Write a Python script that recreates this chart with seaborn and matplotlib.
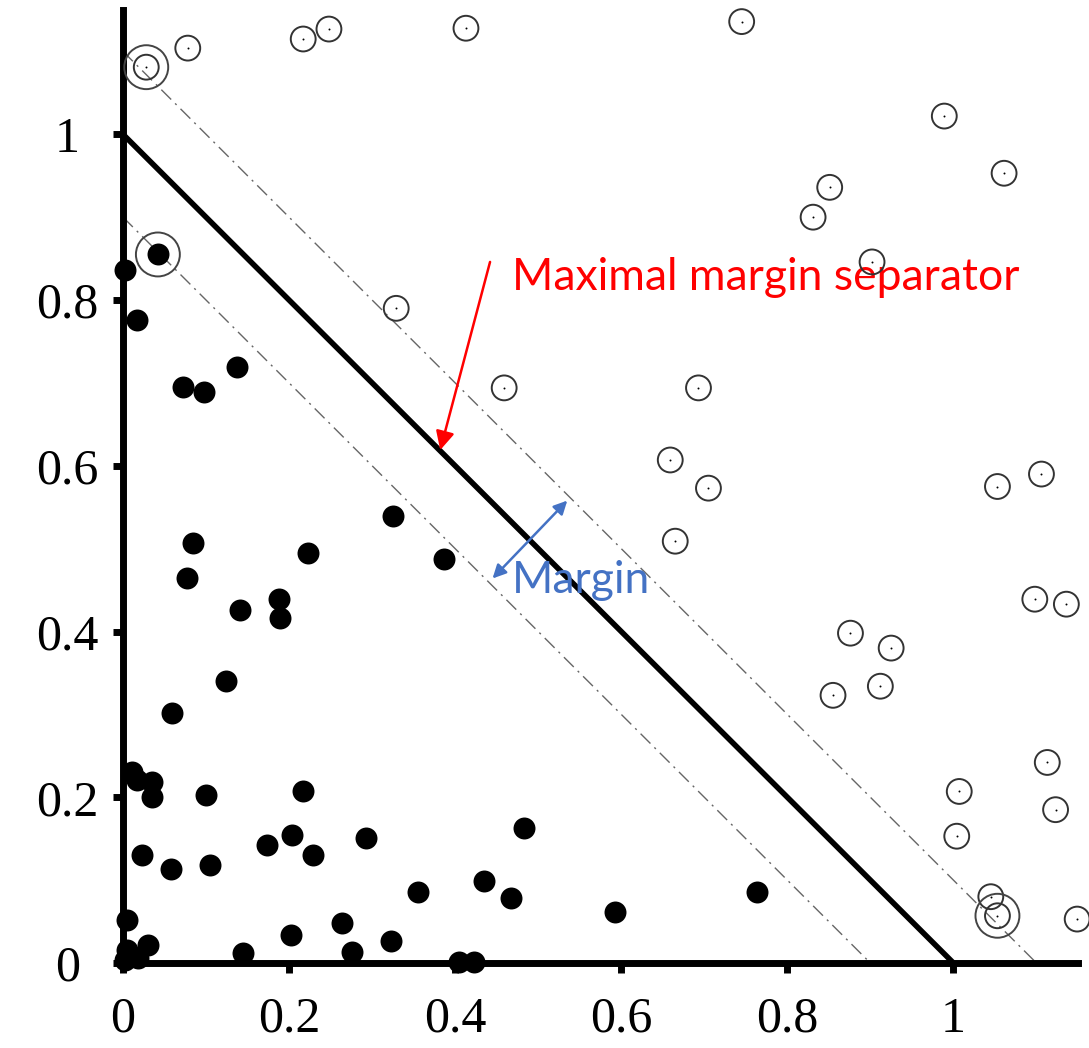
import matplotlib
matplotlib.use("Agg")
import matplotlib.pyplot as plt
import seaborn as sns
import pandas as pd

# class -1 (filled dots)
neg_x = [0.002, 0.042, 0.017, 0.072, 0.098, 0.137, 0.325, 0.386, 0.084, 0.077,
         0.223, 0.141, 0.188, 0.189, 0.124, 0.059, 0.011, 0.017, 0.035, 0.035,
         0.100, 0.217, 0.023, 0.058, 0.105, 0.173, 0.204, 0.229, 0.293, 0.483,
         0.355, 0.435, 0.467, 0.592, 0.763, 0.005, 0.264, 0.202, 0.323, 0.145,
         0.276, 0.405, 0.423, 0.030, 0.005, 0.018, 0.002]
neg_y = [0.836, 0.855, 0.776, 0.695, 0.689, 0.719, 0.539, 0.487, 0.507, 0.464,
         0.495, 0.426, 0.439, 0.416, 0.340, 0.302, 0.230, 0.221, 0.218, 0.200,
         0.203, 0.207, 0.130, 0.113, 0.118, 0.142, 0.154, 0.130, 0.151, 0.163,
         0.086, 0.099, 0.078, 0.062, 0.086, 0.052, 0.048, 0.034, 0.027, 0.012,
         0.013, 0.001, 0.001, 0.022, 0.016, 0.006, 0.004]

# class +1 (open circles)
pos_x = [0.028, 0.078, 0.217, 0.248, 0.413, 0.745, 0.989, 1.061, 0.851, 0.831,
         0.902, 0.329, 0.459, 0.693, 0.659, 0.705, 0.665, 1.053, 1.106, 1.098,
         1.136, 0.876, 0.925, 0.912, 0.855, 1.113, 1.007, 1.123, 1.004, 1.045,
         1.053, 1.149]
pos_y = [1.081, 1.104, 1.115, 1.127, 1.128, 1.136, 1.022, 0.953, 0.936, 0.900,
         0.846, 0.790, 0.694, 0.694, 0.607, 0.573, 0.509, 0.575, 0.590, 0.439,
         0.433, 0.398, 0.380, 0.334, 0.323, 0.242, 0.207, 0.185, 0.153, 0.080,
         0.057, 0.053]

# support vectors
sv_x = [0.028, 0.042, 1.053]
sv_y = [1.081, 0.855, 0.057]

# separator x + y = c, margins at c -/+ 0.1
sep_c = 1.0
margin_c = [0.9, 1.1]

ticks = [0, 0.2, 0.4, 0.6, 0.8, 1]
tick_labels = ["0", "0.2", "0.4", "0.6", "0.8", "1"]

sns.set_style("ticks")

fig = plt.figure(figsize=(10.89, 10.48), dpi=100)
ax = fig.add_axes([123 / 1089, 85 / 1048, 955 / 1089, 953 / 1048])

neg = pd.DataFrame({"x": neg_x, "y": neg_y})
pos = pd.DataFrame({"x": pos_x, "y": pos_y})
sv = pd.DataFrame({"x": sv_x, "y": sv_y})

# lines
sep = pd.DataFrame({"x": [0, sep_c], "y": [sep_c, 0]})
sns.lineplot(data=sep, x="x", y="y", color="black", linewidth=4, ax=ax,
             sort=False, zorder=2)
for c in margin_c:
    m = pd.DataFrame({"x": [0, c], "y": [c, 0]})
    sns.lineplot(data=m, x="x", y="y", color="#666666", linewidth=1.0, ax=ax,
                 sort=False, linestyle=(0, (10, 4, 1.5, 4)), zorder=2)

sns.scatterplot(data=neg, x="x", y="y", s=250, color="black",
                edgecolor="black", linewidth=0, ax=ax, zorder=4, clip_on=False)
sns.scatterplot(data=pos, x="x", y="y", s=320, facecolors="none",
                edgecolor="#333333", linewidth=1.4, ax=ax, zorder=4,
                clip_on=False)
sns.scatterplot(data=pos, x="x", y="y", s=2, color="black", linewidth=0,
                ax=ax, zorder=5, clip_on=False)
sns.scatterplot(data=sv, x="x", y="y", s=1000, facecolors="none",
                edgecolor="#444444", linewidth=1.4, ax=ax, zorder=4,
                clip_on=False)

ax.set_xlim(0, 1.15)
ax.set_ylim(0, 1.15)
ax.set_xticks(ticks)
ax.set_xticklabels(tick_labels)
ax.set_yticks(ticks)
ax.set_yticklabels(tick_labels)
ax.set_xlabel("")
ax.set_ylabel("")

sns.despine(ax=ax)
for side in ["left", "bottom"]:
    ax.spines[side].set_linewidth(5)
    ax.spines[side].set_color("black")
ax.tick_params(axis="both", direction="out", length=7, width=5,
               colors="black", labelsize=36)
ax.tick_params(axis="x", pad=17)
ax.tick_params(axis="y", pad=33)
for lab in ax.get_xticklabels() + ax.get_yticklabels():
    lab.set_family("Liberation Serif")
for lab in ax.get_yticklabels():
    lab.set_horizontalalignment("center")

# annotations
ax.annotate("", xy=(0.382, 0.619), xytext=(0.442, 0.846),
            arrowprops=dict(arrowstyle="-|>", color="red", lw=1.8,
                            mutation_scale=28, shrinkA=0, shrinkB=0))
ax.text(0.468, 0.812, "Maximal margin separator", color="red", fontsize=32,
        family="Lato", va="baseline", ha="left")

ax.annotate("", xy=(0.445, 0.464), xytext=(0.535, 0.558),
            arrowprops=dict(arrowstyle="<|-|>", color="#4472C4", lw=1.8,
                            mutation_scale=20, shrinkA=0, shrinkB=0))
ax.text(0.468, 0.446, "Margin", color="#4472C4", fontsize=32,
        family="Lato", va="baseline", ha="left")

fig.savefig("out.png", dpi=100)
